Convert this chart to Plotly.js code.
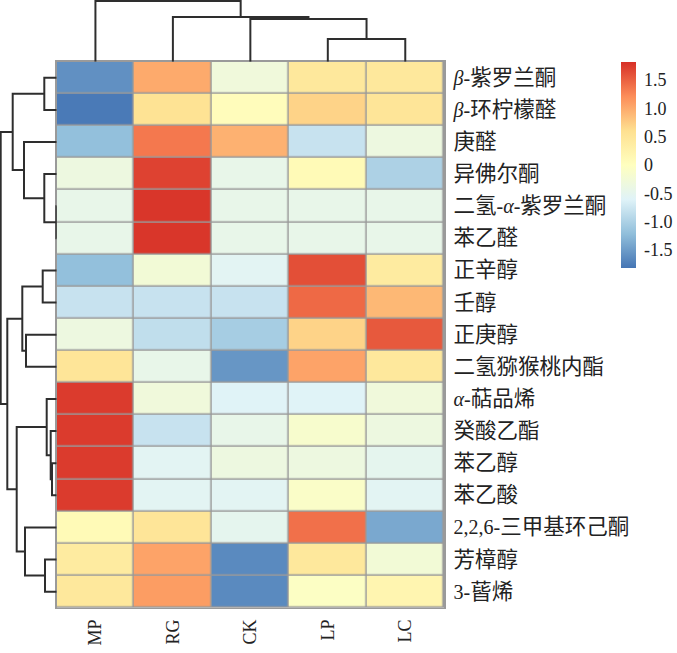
<!DOCTYPE html>
<html><head><meta charset="utf-8">
<script src="https://cdn.plot.ly/plotly-3.0.1.min.js"></script>
<style>html,body{margin:0;padding:0;background:#fff}#chart{width:677px;height:653px}</style>
</head><body><div id="chart"></div>
<script>
// ---- data ----
const columns = ['MP', 'RG', 'CK', 'LP', 'LC'];
const rowLabels = ['<i>β</i>-紫罗兰酮', '<i>β</i>-环柠檬醛', '庚醛', '异佛尔酮', '二氢-<i>α</i>-紫罗兰酮', '苯乙醛',
  '正辛醇', '壬醇', '正庚醇', '二氢猕猴桃内酯', '<i>α</i>-萜品烯', '癸酸乙酯', '苯乙醇', '苯乙酸',
  '2,2,6-三甲基环己酮', '芳樟醇', '3-蒈烯'];
const valMP = [-1.6, -1.78, -1.2, -0.35, -0.445, -0.445, -1.2, -0.8, -0.35, 0.5, 1.75, 1.75, 1.75, 1.75, 0.1, 0.4, 0.45];
const valRG = [1.0, 0.55, 1.35, 1.7, 1.78, 1.78, -0.25, -0.8, -0.85, -0.45, -0.3, -0.8, -0.55, -0.55, 0.5, 1.05, 1.1];
const valCK = [-0.3, 0.05, 0.95, -0.45, -0.445, -0.445, -0.55, -0.8, -1.05, -1.55, -0.6, -0.45, -0.35, -0.55, -0.5, -1.65, -1.65];
const valLP = [0.45, 0.7, -0.8, 0.1, -0.445, -0.445, 1.62, 1.45, 0.7, 1.05, -0.6, -0.15, -0.35, -0.1, 1.4, 0.45, -0.05];
const valLC = [0.45, 0.5, -0.35, -1.0, -0.445, -0.445, 0.4, 0.9, 1.55, 0.45, -0.3, -0.35, -0.5, -0.55, -1.4, -0.25, 0.2];
const colorbarTicks = [-1.5, -1.0, -0.5, 0, 0.5, 1.0, 1.5];
const colorbarTickText = ['-1.5', '-1.0', '-0.5', '0', '0.5', '1.0', '1.5'];

// hierarchical clustering (R hclust style: negative = leaf index+1, positive = merge step)
const rowMerge = [[-5, -6], [-13, -14], [-12, 2], [-11, 3], [-16, -17], [-1, -2], [-4, 1], [-7, -8],
  [-9, -10], [-15, 5], [-3, 7], [8, 9], [4, 10], [6, 11], [12, 13], [14, 15]];
const rowHeight = [0.3, 4.7, 6.0, 10.0, 11.7, 12.4, 12.4, 14.0, 30.7, 31.7, 32.7, 34.4, 40.0, 44.0, 49.4, 56.0];
const colMerge = [[-4, -5], [-3, 1], [-2, 2], [-1, 3]];
const colHeight = [22.7, 42.7, 44.7, 60.7];

// ---- build ----
const palette = ['#4575B4', '#91BFDB', '#E0F3F8', '#FFFFBF', '#FEE090', '#FC8D59', '#D73027'];
const colorscale = palette.map((c, i) => [i / (palette.length - 1), c]);
const allCols = [valMP, valRG, valCK, valLP, valLC];
const z = rowLabels.map((_, r) => allCols.map(col => col[r]));
// CJK runs drawn slightly larger than the Latin parts
const rowTickText = rowLabels.map(s => s.replace(/([\u4e00-\u9fff]+)/g, '<span style="font-size:21.5px">$1</span>'));

function dendroSegments(merge, heights) {
  const pos = [], hts = [];
  const xs = [], ys = [];
  function info(id) {
    if (id < 0) return [-id - 1, 0];
    return [pos[id - 1], hts[id - 1]];
  }
  merge.forEach((m, k) => {
    const [p1, h1] = info(m[0]);
    const [p2, h2] = info(m[1]);
    const h = heights[k];
    xs.push(p1, p1, p2, p2, null);
    ys.push(h1, h, h, h2, null);
    pos.push((p1 + p2) / 2);
    hts.push(h);
  });
  return {pos: xs, h: ys};
}

const rowD = dendroSegments(rowMerge, rowHeight);
const colD = dendroSegments(colMerge, colHeight);

const W = 677, H = 653;
const hmL = 56.7, hmR = 444, hmT = 61.7, hmB = 607.7;
const xDom = [hmL / W, hmR / W];
const yDom = [1 - hmB / H, 1 - hmT / H];
const fontFam = 'Liberation Serif, "Noto Sans CJK SC", serif';
const lineCol = '#2e2e2e';
const gridCol = '#9a9a9a';

const traces = [
  {
    type: 'heatmap', z: z, x: columns.map((_, i) => i), y: rowLabels.map((_, i) => i),
    zmin: -1.82, zmax: 1.82, colorscale: colorscale, xgap: 1.5, ygap: 1.5,
    hoverinfo: 'skip',
    colorbar: {
      x: 621 / W, xanchor: 'left', y: 1 - 62 / H, yanchor: 'top', ypad: 0, xpad: 0,
      len: 206 / H, lenmode: 'fraction', thickness: 15, thicknessmode: 'pixels',
      outlinewidth: 0, tickvals: colorbarTicks, ticktext: colorbarTickText,
      ticks: 'outside', ticklen: 5, tickcolor: 'rgba(0,0,0,0)',
      tickfont: {family: fontFam, size: 18, color: '#222'}
    }
  },
  {
    type: 'scatter', mode: 'lines', x: rowD.h, y: rowD.pos, xaxis: 'x2', yaxis: 'y2',
    line: {color: lineCol, width: 2}, hoverinfo: 'skip', showlegend: false
  },
  {
    type: 'scatter', mode: 'lines', x: colD.pos, y: colD.h, xaxis: 'x3', yaxis: 'y3',
    line: {color: lineCol, width: 2}, hoverinfo: 'skip', showlegend: false
  }
];

const layout = {
  width: W, height: H, margin: {l: 0, r: 0, t: 0, b: 0},
  paper_bgcolor: '#ffffff', plot_bgcolor: '#ffffff', showlegend: false,
  font: {family: fontFam, color: '#222'},
  shapes: [{
    type: 'rect', xref: 'x domain', yref: 'y domain', x0: 0, x1: 1, y0: 0, y1: 1,
    fillcolor: gridCol, line: {width: 0}, layer: 'below'
  }],
  xaxis: {
    domain: xDom, range: [-0.5, columns.length - 0.5], tickvals: columns.map((_, i) => i),
    ticktext: columns, tickangle: -90, ticks: '', showgrid: false, zeroline: false,
    showline: true, mirror: true, linecolor: gridCol, linewidth: 1.5,
    tickfont: {family: fontFam, size: 18, color: '#222'}, ticklabelstandoff: 3, automargin: false, fixedrange: true
  },
  yaxis: {
    domain: yDom, range: [rowLabels.length - 0.5, -0.5], tickvals: rowLabels.map((_, i) => i),
    ticktext: rowTickText, side: 'right', ticks: '', showgrid: false, zeroline: false,
    showline: true, mirror: true, linecolor: gridCol, linewidth: 1.5,
    tickfont: {family: fontFam, size: 20, color: '#222'}, ticklabelstandoff: 4, automargin: false, fixedrange: true
  },
  xaxis2: {
    domain: [0, hmL / W], range: [hmL, 0], anchor: 'y2',
    showgrid: false, zeroline: false, showticklabels: false, ticks: '', showline: false
  },
  yaxis2: {
    domain: yDom, range: [rowLabels.length - 0.5, -0.5], anchor: 'x2',
    showgrid: false, zeroline: false, showticklabels: false, ticks: '', showline: false
  },
  xaxis3: {
    domain: xDom, range: [-0.5, columns.length - 0.5], anchor: 'y3',
    showgrid: false, zeroline: false, showticklabels: false, ticks: '', showline: false
  },
  yaxis3: {
    domain: [1 - hmT / H, 1], range: [0, hmT], anchor: 'x3',
    showgrid: false, zeroline: false, showticklabels: false, ticks: '', showline: false
  }
};

Plotly.newPlot('chart', traces, layout, {displayModeBar: false, staticPlot: true});
</script>
</body></html>
